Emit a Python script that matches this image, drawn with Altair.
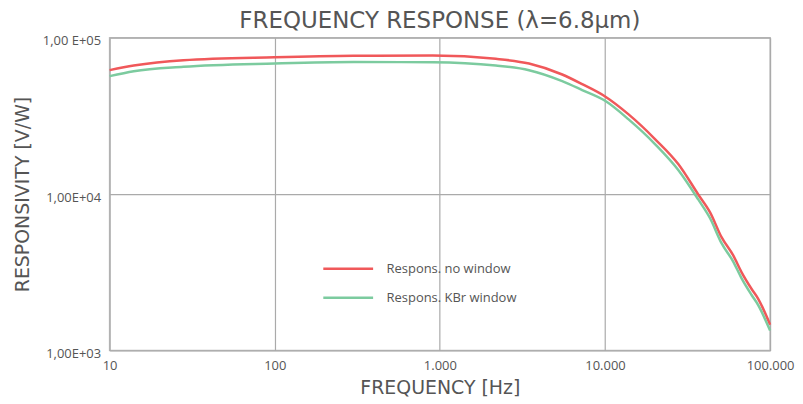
import altair as alt
import pandas as pd

freq = [10, 14, 28, 100, 300, 906, 2183, 3467, 5508, 7275, 10070, 13900,
        20150, 27860, 36800, 43300, 50800, 59800, 67100, 77100, 84700, 100000]
resp_no_window = [62000, 66300, 71700, 74900, 76500, 76800, 73200, 68300, 58100,
                  50400, 41900, 32300, 22400, 15500, 9900, 7640, 5300, 4050,
                  3170, 2480, 2140, 1460]
resp_kbr = [56700, 61000, 65100, 68300, 69800, 69600, 66300, 61900, 52700,
            46200, 39300, 30000, 20800, 14200, 9200, 7000, 4850, 3700,
            2900, 2270, 1950, 1340]
series_names = ["Respons. no window", "Respons. KBr window"]
series_colors = ["#F0585A", "#7CCB9F"]

x_ticks = [10, 100, 1000, 10000, 100000]
x_labels = ["10", "100", "1.000", "10.000", "100.000"]
y_ticks = [1000, 10000, 100000]
y_labels = ["1,00E+03", "1,00E+04", "1,00 E+05"]

rows = []
for f, v in zip(freq, resp_no_window):
    rows.append({"freq": f, "resp": v, "series": series_names[0]})
for f, v in zip(freq, resp_kbr):
    rows.append({"freq": f, "resp": v, "series": series_names[1]})
df = pd.DataFrame(rows)

def label_expr(vals, labs):
    expr = "''"
    for v, l in zip(vals, labs):
        expr = f"datum.value == {v} ? '{l}' : ({expr})"
    return expr

FONT = "Open Sans"
TFONT = "DejaVu Sans"
GRAY = "#555555"

chart = alt.Chart(df).mark_line(strokeWidth=2.5, interpolate="monotone").encode(
    x=alt.X("freq:Q", scale=alt.Scale(type="log", domain=[10, 100000], nice=False),
            axis=alt.Axis(values=x_ticks, labelExpr=label_expr(x_ticks, x_labels),
                          title="FREQUENCY [Hz]", grid=True, ticks=False, domain=False,
                          labelFlush=False, labelPadding=9, titlePadding=6)),
    y=alt.Y("resp:Q", scale=alt.Scale(type="log", domain=[1000, 100000], nice=False),
            axis=alt.Axis(values=y_ticks, labelExpr=label_expr(y_ticks, y_labels),
                          title="RESPONSIVITY [V/W]", grid=True, ticks=False, domain=False,
                          labelFlush=False, labelPadding=9, titlePadding=10,
                          labelOffset=3)),
    color=alt.Color("series:N", scale=alt.Scale(domain=series_names, range=series_colors),
                    legend=alt.Legend(title=None, orient="none", legendX=213, legendY=223,
                                      symbolType="stroke", symbolSize=2500,
                                      symbolStrokeWidth=2.5, labelFontSize=13,
                                      labelColor=GRAY, labelFont=FONT, labelOffset=12,
                                      clipHeight=18, rowPadding=11)),
).properties(
    width=663, height=314,
    title=alt.Title("FREQUENCY RESPONSE (λ=6.8µm)", fontSize=23, color=GRAY,
                    font=TFONT, fontWeight="normal", anchor="middle", offset=2),
    padding={"left": 5, "top": 1, "right": 0, "bottom": 0},
).configure_view(
    stroke="#BBBBBB", strokeWidth=1.5
).configure_axis(
    gridColor="#AAAAAA", gridWidth=1.2, labelFont=FONT, labelFontSize=13,
    labelColor=GRAY, titleFont=TFONT, titleFontSize=19, titleColor=GRAY,
    titleFontWeight="normal"
)

chart.save("out.html", embed_options={"renderer": "svg", "actions": False})
